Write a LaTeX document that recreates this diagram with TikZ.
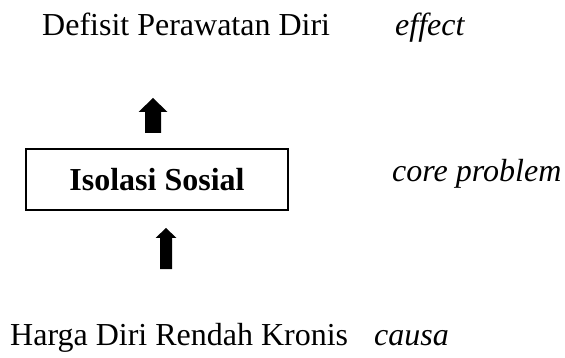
\documentclass[tikz,border=0pt]{standalone}
\usepackage{fontspec}
\setmainfont{Liberation Serif}
\begin{document}
\begin{tikzpicture}[x=1pt,y=-1pt,
  lbl/.style={inner sep=0pt,anchor=base west,font=\fontsize{32}{38}\selectfont},
  ilbl/.style={lbl,font=\fontsize{32}{38}\selectfont\itshape},
  corebox/.style={draw,line width=1.1pt,minimum width=262pt,minimum height=61pt,inner sep=0pt,font=\fontsize{32}{38}\selectfont\bfseries},
  blockarrow/.style={fill=black}]
\useasboundingbox (0,0) rectangle (565,358);
\node[lbl] (effect) at (42,36) {Defisit Perawatan Diri};
\node[ilbl] (effl) at (395,36) {effect};
\node[corebox] (core) at (157,179.5) {Isolasi Sosial};
\node[ilbl] (corel) at (392,182) {core problem};
\node[lbl] (cause) at (10,345) {Harga Diri Rendah Kronis};
\node[ilbl] (causel) at (374,345) {causa};
% upper block arrow
\coordinate (ua) at (153,98);
\fill[blockarrow] (ua) -- ++(14.5,14) -- ++(-6.5,0) -- ++(0,21) -- ++(-16,0) -- ++(0,-21) -- ++(-6.5,0) -- cycle;
% lower block arrow
\coordinate (la) at (166,228);
\fill[blockarrow] (la) -- ++(10.5,10) -- ++(-4.5,0) -- ++(0,31) -- ++(-12,0) -- ++(0,-31) -- ++(-4.5,0) -- cycle;
\end{tikzpicture}
\end{document}
